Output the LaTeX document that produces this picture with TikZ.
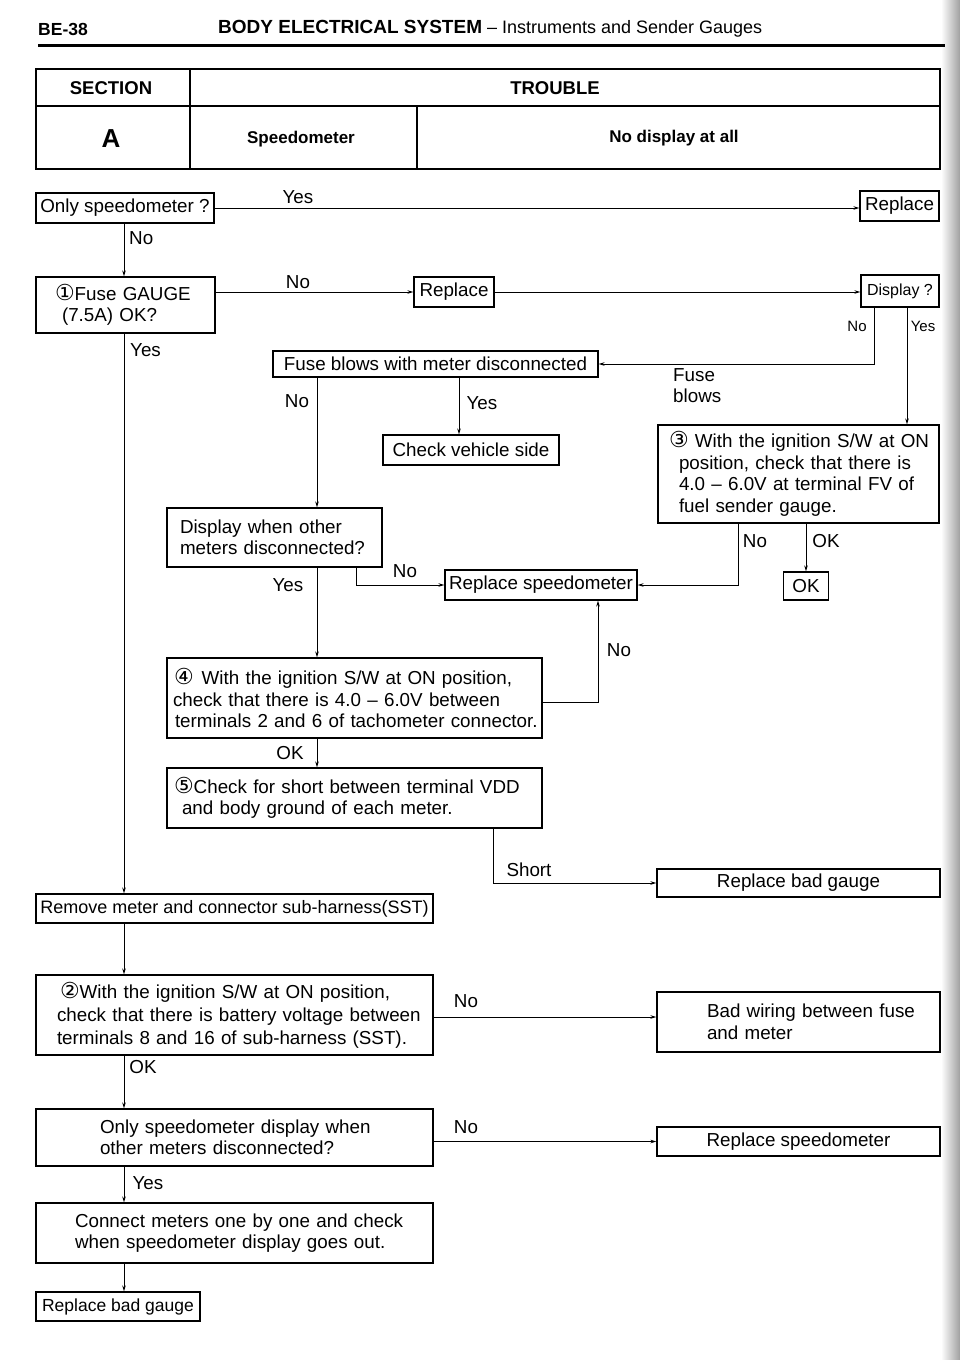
\documentclass[tikz,border=0pt]{standalone}
\usepackage{fontspec}
\setmainfont{Liberation Sans}
\newfontfamily\circfont{DejaVu Sans}
\newcommand{\cnum}[1]{{\circfont\fontsize{22}{19}\selectfont #1}}
\usetikzlibrary{arrows.meta}

\begin{document}
\begin{tikzpicture}[x=1pt,y=-1pt]
\tikzstyle{box}=[draw,line width=1.2pt,inner sep=0pt,font=\fontsize{18.8}{21.5}\selectfont]
\tikzstyle{lab}=[inner sep=0pt,font=\fontsize{18.8}{21}\selectfont]
\tikzstyle{small}=[inner sep=0pt,font=\fontsize{15}{15}\selectfont]
\tikzstyle{conn}=[line width=0.9pt,-{Stealth[length=6pt,width=3.5pt]}]

\useasboundingbox (0,0) rectangle (960,1360);
\fill [white] (0,0) rectangle (960,1360);
\shade [left color=white,right color=gray!75] (941,0) rectangle (960,1360);

% ========= header
\node (page) [anchor=west,inner sep=0pt,font=\bfseries\fontsize{17.5}{18}\selectfont] at (38,29) {BE-38};
\node (title) [anchor=west,inner sep=0pt,font=\fontsize{18}{18}\selectfont] at (218,29) {{\bfseries\fontsize{19}{19}\selectfont BODY ELECTRICAL SYSTEM} -- Instruments and Sender Gauges};
\draw [line width=3pt] (38,45) -- (945,45);

% ========= table
\draw [line width=1.2pt] (36,69) rectangle (940,169);
\draw [line width=1.2pt] (36,106) -- (940,106);
\draw [line width=1.2pt] (190,69) -- (190,169);
\draw [line width=1.2pt] (417,106) -- (417,169);
\node (sec) [font=\bfseries\fontsize{18.5}{18}\selectfont] at (111,88) {SECTION};
\node (trb) [font=\bfseries\fontsize{18.5}{18}\selectfont] at (555,88) {TROUBLE};
\node (secA) [font=\bfseries\fontsize{26}{26}\selectfont] at (111,139) {A};
\node (unit) [font=\bfseries\fontsize{17}{17}\selectfont] at (301,139) {Speedometer};
\node (symp) [font=\bfseries\fontsize{17}{17}\selectfont] at (674,138) {No display at all};

% ========= boxes
\node (only) [box,minimum width=178pt,minimum height=30pt] at (125,208) {Only speedometer ?};
\node (rep1) [box,minimum width=79pt,minimum height=30pt] at (899.5,206) {Replace};
\node (fuse) [box,text width=179pt,minimum height=56pt,align=left] at (125.5,305) {\hspace*{19pt}\cnum{①}Fuse GAUGE\\\hspace*{26pt}(7.5A) OK?};
\node (rep2) [box,minimum width=80pt,minimum height=30pt] at (454,292) {Replace};
\node (disp) [box,minimum width=78pt,minimum height=32pt,font=\fontsize{16}{16}\selectfont] at (900,291) {Display ?};
\node (blows) [box,minimum width=325pt,minimum height=26pt] at (435.5,364) {Fuse blows with meter disconnected};
\node (check) [box,minimum width=176pt,minimum height=30pt] at (471,450) {Check vehicle side};
\node (three) [box,text width=281pt,minimum height=98pt,align=left] at (798.5,474) {\hspace*{11pt}\cnum{③} With the ignition S/W at ON\\\hspace*{21pt}position, check that there is\\\hspace*{21pt}4.0 -- 6.0V at terminal FV of\\\hspace*{21pt}fuel sender gauge.};
\node (dwo) [box,text width=215pt,minimum height=59pt,align=left] at (274.5,537.5) {\hspace*{13pt}Display when other\\\hspace*{13pt}meters disconnected?};
\node (repspd) [box,minimum width=192pt,minimum height=30pt] at (541,585) {Replace speedometer};
\node (okbox) [box,minimum width=45pt,minimum height=28pt] at (806,586) {OK};
\node (four) [box,text width=375pt,minimum height=80pt,align=left] at (354.5,698) {\hspace*{7pt}\cnum{④}\hspace{8pt}With the ignition S/W at ON position,\\\hspace*{6pt}check that there is 4.0 -- 6.0V between\\\hspace*{8pt}terminals 2 and 6 of tachometer connector.};
\node (five) [box,text width=375pt,minimum height=60pt,align=left] at (354.5,798) {\hspace*{7pt}\cnum{⑤}Check for short between terminal VDD\\\hspace*{15pt}and body ground of each meter.};
\node (rbg1) [box,minimum width=283pt,minimum height=28pt] at (798.5,883) {Replace bad gauge};
\node (remove) [box,minimum width=397pt,minimum height=29pt,font=\fontsize{18}{18}\selectfont] at (234.5,908.5) {Remove meter and connector sub-harness(SST)};
\node (two) [box,text width=397pt,minimum height=80pt,align=left,font=\fontsize{18.8}{23}\selectfont] at (234.5,1015) {\hspace*{24pt}\cnum{②}With the ignition S/W at ON position,\\\hspace*{21pt}check that there is battery voltage between\\\hspace*{21pt}terminals 8 and 16 of sub-harness (SST).};
\node (wiring) [box,text width=283pt,minimum height=60pt,align=left] at (798.5,1022) {\hspace*{50pt}Bad wiring between fuse\\\hspace*{50pt}and meter};
\node (osd) [box,text width=397pt,minimum height=57pt,align=left] at (234.5,1137.5) {\hspace*{64pt}Only speedometer display when\\\hspace*{64pt}other meters disconnected?};
\node (repspd2) [box,minimum width=283pt,minimum height=29pt] at (798.5,1141.5) {Replace speedometer};
\node (connect) [box,text width=397pt,minimum height=60pt,align=left] at (234.5,1233) {\hspace*{39pt}Connect meters one by one and check\\\hspace*{39pt}when speedometer display goes out.};
\node (rbg2) [box,minimum width=164pt,minimum height=29pt,font=\fontsize{17.5}{18}\selectfont] at (118,1306.5) {Replace bad gauge};

% ====== connections
\coordinate (colA) at (124,0);
\coordinate (colB) at (317,0);
\coordinate (colC) at (459,0);
\coordinate (colD) at (356,0);
\coordinate (colE) at (738,0);
\coordinate (colF) at (598,0);
\coordinate (colG) at (493,0);
\coordinate (rowA) at (0,702);
\coordinate (rowB) at (0,1017);

\draw [conn] (only.east) -- (only.east -| rep1.west);
\draw [conn] (only.south -| colA) -- (fuse.north -| colA);
\draw [conn] (fuse.east |- rep2.west) -- (rep2.west);
\draw [conn] (rep2.east) -- (rep2.east -| disp.west);
\draw [conn] ([xshift=-26pt]disp.south) |- (blows.east);
\draw [conn] ([xshift=7pt]disp.south) -- ([xshift=7pt]disp.south |- three.north);
\draw [conn] (blows.south -| colB) -- (dwo.north -| colB);
\draw [conn] (blows.south -| colC) -- (check.north -| colC);
\draw [conn] (dwo.south -| colB) -- (four.north -| colB);
\draw [conn] (dwo.south -| colD) |- (repspd.west);
\draw [conn] (three.south -| colE) |- (repspd.east);
\draw [conn] (three.south -| okbox.north) -- (okbox.north);
\draw [conn] (four.east |- rowA) -| (repspd.south -| colF);
\draw [conn] (four.south -| colB) -- (five.north -| colB);
\draw [conn] (five.south -| colG) |- (rbg1.west);
\draw [conn] (fuse.south -| colA) -- (remove.north -| colA);
\draw [conn] (remove.south -| colA) -- (two.north -| colA);
\draw [conn] (two.east |- rowB) -- (wiring.west |- rowB);
\draw [conn] (two.south -| colA) -- (osd.north -| colA);
\draw [conn] (osd.east |- repspd2.west) -- (repspd2.west);
\draw [conn] (osd.south -| colA) -- (connect.north -| colA);
\draw [conn] (connect.south -| colA) -- (rbg2.north -| colA);

%% ===== labels
\node (yes1) [lab] at (298,197) {Yes};
\node (no1) [lab,anchor=west] at (129,238) {No};
\node (no2) [lab] at (298,282) {No};
\node (yes2) [lab,anchor=west] at (130,350) {Yes};
\node (no3) [small] at (857,326) {No};
\node (yes3) [small] at (923,326) {Yes};
\node (fb) [lab,align=left,anchor=west] at (673,386) {Fuse\\blows};
\node (no4) [lab] at (297,401) {No};
\node (yes4) [lab] at (482,403) {Yes};
\node (yes5) [lab] at (288,585) {Yes};
\node (no5) [lab] at (405,571) {No};
\node (no6) [lab] at (755,541) {No};
\node (ok1) [lab] at (826,541) {OK};
\node (no7) [lab] at (619,650) {No};
\node (ok2) [lab] at (290,753) {OK};
\node (short) [lab] at (529,870) {Short};
\node (no8) [lab] at (466,1001) {No};
\node (ok3) [lab] at (143,1067) {OK};
\node (no9) [lab] at (466,1127) {No};
\node (yes6) [lab] at (148,1183) {Yes};
\end{tikzpicture}
\end{document}
